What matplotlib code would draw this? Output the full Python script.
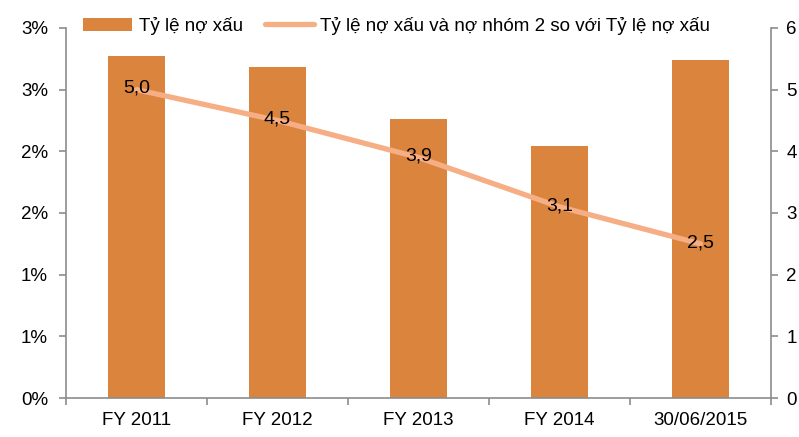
import matplotlib.pyplot as plt
import numpy as np

plt.rcParams['font.family'] = ['Liberation Sans', 'DejaVu Sans']

categories = ["FY 2011", "FY 2012", "FY 2013", "FY 2014", "30/06/2015"]
npl_ratio = [2.77, 2.68, 2.26, 2.04, 2.74]          # % (left axis)
npl_group2_ratio = [5.0, 4.5, 3.9, 3.1, 2.5]        # times (right axis)
left_ticks = [0, 0.5, 1.0, 1.5, 2.0, 2.5, 3.0]
left_ticklabels = ["0%", "1%", "1%", "2%", "2%", "3%", "3%"]
right_ticks = [0, 1, 2, 3, 4, 5, 6]

bar_color = "#DB843E"
line_color = "#F6AE85"
spine_color = "#8C8C8C"
fs = 13.5

fig = plt.figure(figsize=(7.99, 4.37), dpi=100)
ax = fig.add_axes([0.0826, 0.0892, 0.8824, 0.8468])
ax2 = ax.twinx()

x = np.arange(len(categories))
bars = ax.bar(x, npl_ratio, width=0.4, color=bar_color, zorder=2,
              label="Tỷ lệ nợ xấu")
ax.set_ylim(0, 3.0)
ax.set_xlim(-0.5, len(categories) - 0.5)
ax.set_yticks(left_ticks)
ax.set_yticklabels(left_ticklabels)

line, = ax2.plot(x, npl_group2_ratio, color=line_color, lw=3.8,
                 solid_capstyle='round', zorder=3,
                 label="Tỷ lệ nợ xấu và nợ nhóm 2 so với Tỷ lệ nợ xấu")
ax2.set_ylim(0, 6)
ax2.set_yticks(right_ticks)
for xi, v in zip(x, npl_group2_ratio):
    ax2.text(xi, v + 0.02, f"{v:.1f}".replace(".", ","), ha='center',
             va='center', fontsize=14, color='black', zorder=4)

# category separators on x axis
ax.set_xticks(np.arange(-0.5, len(categories), 1.0))
ax.set_xticklabels([])
ax.set_xticks(x, minor=True)
ax.set_xticklabels(categories, minor=True)
ax.tick_params(axis='x', which='minor', length=0, pad=10, labelsize=fs)
ax.tick_params(axis='x', which='major', length=5, color=spine_color, width=1.2)

for a in (ax, ax2):
    a.spines['top'].set_visible(False)
    for s in ('left', 'right', 'bottom'):
        a.spines[s].set_color(spine_color)
        a.spines[s].set_linewidth(1.2)
ax.spines['right'].set_visible(False)
ax2.spines['left'].set_visible(False)
ax2.spines['bottom'].set_visible(False)
ax.tick_params(axis='y', length=5, color=spine_color, width=1.2, labelsize=fs, pad=8)
ax2.tick_params(axis='y', length=5, color=spine_color, width=1.2, labelsize=fs, pad=6)

ax.set_zorder(ax2.get_zorder() - 1)
ax.patch.set_visible(False)

fig.legend(handles=[bars, line], loc='upper left', bbox_to_anchor=(0.083, 1.0),
           ncol=2, frameon=False, fontsize=fs, handlelength=2.6,
           handletextpad=0.35, columnspacing=1.2)

fig.savefig("out.png", dpi=100)
